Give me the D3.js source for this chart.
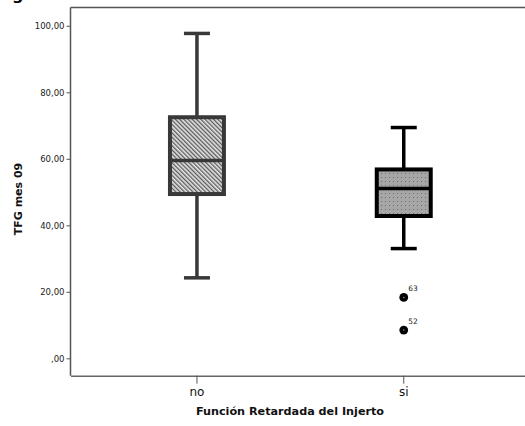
<!DOCTYPE html>
<html><head><meta charset="utf-8">
<script src="https://cdn.jsdelivr.net/npm/d3@7"></script>
<style>html,body{margin:0;padding:0;background:#fff;overflow:hidden}</style>
</head><body>
<svg id="c" width="525" height="426"></svg>
<script>
const categories = ["no", "si"];
const whiskerLow = [24.2, 33.0];
const q1 = [49.4, 42.8];
const median = [59.5, 51.1];
const q3 = [72.5, 56.8];
const whiskerHigh = [97.7, 69.4];
const outlierCat = ["si", "si"];
const outlierVal = [18.3, 8.5];
const outlierLab = ["63", "52"];
const yTicks = [0, 20, 40, 60, 80, 100];
const yTickLabels = [",00", "20,00", "40,00", "60,00", "80,00", "100,00"];

(function(){
const svg = d3.select("#c");
const pLeft = 70.5, pRight = 530.2, pTop = 7.5, pBottom = 375.7;
const y = d3.scaleLinear().domain([-5.23, 105.5]).range([pBottom, pTop]);
const x = d3.scaleBand().domain(categories).range([pLeft, pRight]).paddingInner(0.739).paddingOuter(0.481);

const defs = svg.append("defs");
const p1 = defs.append("pattern").attr("id","diag").attr("patternUnits","userSpaceOnUse")
  .attr("width",3).attr("height",3).attr("patternTransform","rotate(-45)");
p1.append("rect").attr("width",3).attr("height",3).attr("fill","#e4e4e4");
p1.append("rect").attr("x",0).attr("width",1.3).attr("height",3).attr("fill","#5a5a5a");
const p2 = defs.append("pattern").attr("id","dots").attr("patternUnits","userSpaceOnUse")
  .attr("width",4).attr("height",4);
p2.append("rect").attr("width",4).attr("height",4).attr("fill","#a6a6a6");
p2.append("rect").attr("x",1).attr("y",1).attr("width",1).attr("height",1).attr("fill","#6e6e6e");

svg.append("text").attr("x",12).attr("y",-0.5).attr("font-family","DejaVu Sans").attr("font-weight","bold")
  .attr("font-size",16).attr("fill","#000").text("g");

svg.append("line").attr("x1",pLeft).attr("x2",525).attr("y1",pTop).attr("y2",pTop).attr("stroke","#555").attr("stroke-width",1.5);
svg.append("line").attr("x1",pLeft).attr("x2",pLeft).attr("y1",pTop).attr("y2",pBottom).attr("stroke","#555").attr("stroke-width",1.5);

const yAxis = d3.axisLeft(y).tickValues(yTicks).tickSize(4).tickPadding(2)
  .tickFormat((d,i)=>yTickLabels[i]);
const gy = svg.append("g").attr("transform",`translate(${pLeft},0)`).call(yAxis);
gy.select(".domain").remove();
gy.selectAll(".tick line").attr("stroke","#555");
gy.selectAll(".tick text").attr("font-family","DejaVu Sans").attr("font-size",8.5).attr("fill","#222");

const xAxis = d3.axisBottom(x).tickSizeInner(8).tickSizeOuter(0).tickPadding(4);
const gx = svg.append("g").attr("transform",`translate(0,${pBottom})`).call(xAxis);
gx.select(".domain").attr("stroke","#666").attr("stroke-width",1.5);
gx.selectAll(".tick line").attr("stroke","#555");
gx.selectAll(".tick text").attr("font-family","DejaVu Sans").attr("font-size",12).attr("fill","#111");

svg.append("text").attr("transform","translate(22,199) rotate(-90)").attr("text-anchor","middle")
  .attr("font-family","DejaVu Sans").attr("font-weight","bold").attr("font-size",11).attr("fill","#111").text("TFG mes 09");
svg.append("text").attr("x",290).attr("y",415).attr("text-anchor","middle")
  .attr("font-family","DejaVu Sans").attr("font-weight","bold").attr("font-size",11.2).attr("fill","#111").text("Función Retardada del Injerto");

const colors = ["#383838", "#000"];
const fills = ["url(#diag)", "url(#dots)"];
const capW = 26;
categories.forEach((c,i)=>{
  const cx = x(c) + x.bandwidth()/2;
  const g = svg.append("g");
  const col = colors[i];
  g.append("line").attr("x1",cx).attr("x2",cx).attr("y1",y(whiskerHigh[i])).attr("y2",y(q3[i])).attr("stroke",col).attr("stroke-width",3.5);
  g.append("line").attr("x1",cx).attr("x2",cx).attr("y1",y(q1[i])).attr("y2",y(whiskerLow[i])).attr("stroke",col).attr("stroke-width",3.5);
  g.append("line").attr("x1",cx-capW/2).attr("x2",cx+capW/2).attr("y1",y(whiskerHigh[i])).attr("y2",y(whiskerHigh[i])).attr("stroke",col).attr("stroke-width",3.5);
  g.append("line").attr("x1",cx-capW/2).attr("x2",cx+capW/2).attr("y1",y(whiskerLow[i])).attr("y2",y(whiskerLow[i])).attr("stroke",col).attr("stroke-width",3.5);
  g.append("rect").attr("x",x(c)).attr("width",x.bandwidth()).attr("y",y(q3[i])).attr("height",y(q1[i])-y(q3[i]))
    .attr("fill",fills[i]).attr("stroke",col).attr("stroke-width",4);
  g.append("line").attr("x1",x(c)).attr("x2",x(c)+x.bandwidth()).attr("y1",y(median[i])).attr("y2",y(median[i])).attr("stroke",col).attr("stroke-width",3.5);
});

outlierVal.forEach((v,i)=>{
  const cx = x(outlierCat[i]) + x.bandwidth()/2;
  svg.append("circle").attr("cx",cx).attr("cy",y(v)).attr("r",4.4).attr("fill","#000");
  svg.append("circle").attr("cx",cx).attr("cy",y(v)).attr("r",0.8).attr("fill","#888");
  svg.append("text").attr("x",cx+4.5).attr("y",y(v)-6).attr("font-family","DejaVu Sans").attr("font-size",7.5).attr("fill","#222").text(outlierLab[i]);
});
})();
</script>
</body></html>
